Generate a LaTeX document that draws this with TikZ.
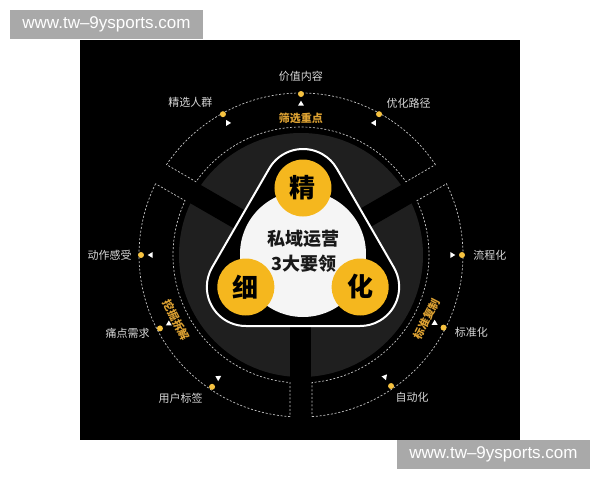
\documentclass[tikz,border=0pt]{standalone}
\usepackage{fontspec}
\setmainfont{Noto Sans CJK SC}
\newfontfamily\wmfont{Liberation Sans}
\usetikzlibrary{positioning,shapes.geometric,calc}
\definecolor{gold}{HTML}{F5B71E}
\definecolor{goldtxt}{HTML}{DCA132}
\definecolor{discgray}{HTML}{1F1F1F}
\definecolor{lblgray}{HTML}{D8D8D8}
\definecolor{wmgray}{HTML}{A9A9A9}
\definecolor{dashgray}{HTML}{C4C4C4}

\begin{document}
\begin{tikzpicture}[x=1pt, y=1pt, node distance=6pt, every node/.style={inner sep=1pt},
	dashline/.style={draw=dashgray, line width=0.7pt, dash pattern=on 2pt off 1.8pt},
	gapband/.style={line width=21pt, black},
	corecircle/.style={circle, fill=gold, minimum size=57pt, font=\fontsize{26}{26}\selectfont\bfseries},
	golddot/.style={circle, fill=gold!85!white, minimum size=6pt, inner sep=0pt},
	tipmark/.style={isosceles triangle, isosceles triangle stretches, fill=white, minimum width=6pt, minimum height=5pt, inner sep=0pt},
	lbl/.style={text=lblgray, font=\fontsize{11}{11}\selectfont},
	keytext/.style={text=goldtxt, inner sep=0pt, font=\fontsize{11}{11}\selectfont\bfseries},
	watermark/.style={fill=wmgray, text=white, font=\wmfont\fontsize{17}{17}\selectfont, minimum width=193pt, minimum height=29pt, inner sep=0pt}]

	\fill[white] (-301,-225) rectangle (299,255);
	\fill[black] (-221,-185) rectangle (219,215);
	\fill[discgray] (0,0) circle[radius=122];
	\draw[gapband] (0,0) -- (30:124);
	\draw[gapband] (0,0) -- (150:124);
	\draw[gapband] (0,0) -- (270:124);

	\foreach \s in {30,150,270}
		\draw[dashline] ({\s+3.9}:162) arc[start angle=\s+3.9, end angle=\s+116.1, radius=162] -- ({\s+115.1}:128) arc[start angle=\s+115.1, end angle=\s+4.9, radius=128] -- cycle;

	\coordinate (ctr) at (2,1);
	\coordinate (vj) at ($(ctr)+(90:66)$);
	\coordinate (vx) at ($(ctr)+(210:66)$);
	\coordinate (vh) at ($(ctr)+(330:66)$);
	\draw[white, line width=2pt, fill=black] ($(vj)+(150:39)$) arc[start angle=150, end angle=30, radius=39] -- ($(vh)+(30:39)$) arc[start angle=30, end angle=-90, radius=39] -- ($(vx)+(-90:39)$) arc[start angle=270, end angle=150, radius=39] -- cycle;
	\fill[white!96!black] (ctr) circle[radius=63];

	\node (jing) [corecircle] at (vj) {精};
	\node (xi) [corecircle] at (vx) {细};
	\node (hua) [corecircle] at (vh) {化};
	\node (title) [align=center, text=black!90, font=\fontsize{18}{25}\selectfont\bfseries] at (3,4) {私域运营\\3大要领};

	\node (kshai) [keytext] at (90:137) {筛选重点};
	\node (kwa) [keytext, rotate=-62.5] at (207.5:141) {挖掘拆解};
	\node (kbiao) [keytext, rotate=63] at (-27:141) {标准复制};

	\node (dxr) [golddot] at (119:161) {};
	\node (djz) [golddot] at (90:161) {};
	\node (dyh) [golddot] at (61:161) {};
	\node (ddz) [golddot] at (180:160) {};
	\node (dtd) [golddot] at (207.5:159) {};
	\node (dyb) [golddot] at (236:159) {};
	\node (dlc) [golddot] at (0:161) {};
	\node (dbz) [golddot] at (-27:160) {};
	\node (dzd) [golddot] at (-55.5:159) {};

	\node (mxr) [tipmark] at (119:151) {};
	\node (mjz) [tipmark, rotate=90] at (90:151) {};
	\node (myh) [tipmark, rotate=180] at (61:151) {};
	\node (mdz) [tipmark, rotate=180] at (180:150) {};
	\node (mtd) [tipmark, rotate=90] at (207.5:149) {};
	\node (myb) [tipmark, rotate=150] at (236:148) {};
	\node (mlc) [tipmark] at (0:151) {};
	\node (mbz) [tipmark, rotate=90] at (-27:150) {};
	\node (mzd) [tipmark, rotate=170] at (-55.5:148) {};

	\node (txr) [lbl, above left=3pt and 7pt of dxr] {精选人群};
	\node (tjz) [lbl, above=8pt of djz] {价值内容};
	\node (tyh) [lbl, above right=2pt and 4pt of dyh] {优化路径};
	\node (tdz) [lbl, left=5pt of ddz] {动作感受};
	\node (ttd) [lbl, left=6pt of dtd, yshift=-5pt] {痛点需求};
	\node (tyb) [lbl, below left=3pt and 6pt of dyb] {用户标签};
	\node (tlc) [lbl, right=7pt of dlc] {流程化};
	\node (tbz) [lbl, right=7pt of dbz, yshift=-5pt] {标准化};
	\node (tzd) [lbl, below right=3pt and 1pt of dzd] {自动化};

	\node (wm1) [watermark] at (-194.5,230.5) {www.tw–9ysports.com};
	\node (wm2) [watermark] at (192.5,-199.5) {www.tw–9ysports.com};

\end{tikzpicture}
\end{document}
